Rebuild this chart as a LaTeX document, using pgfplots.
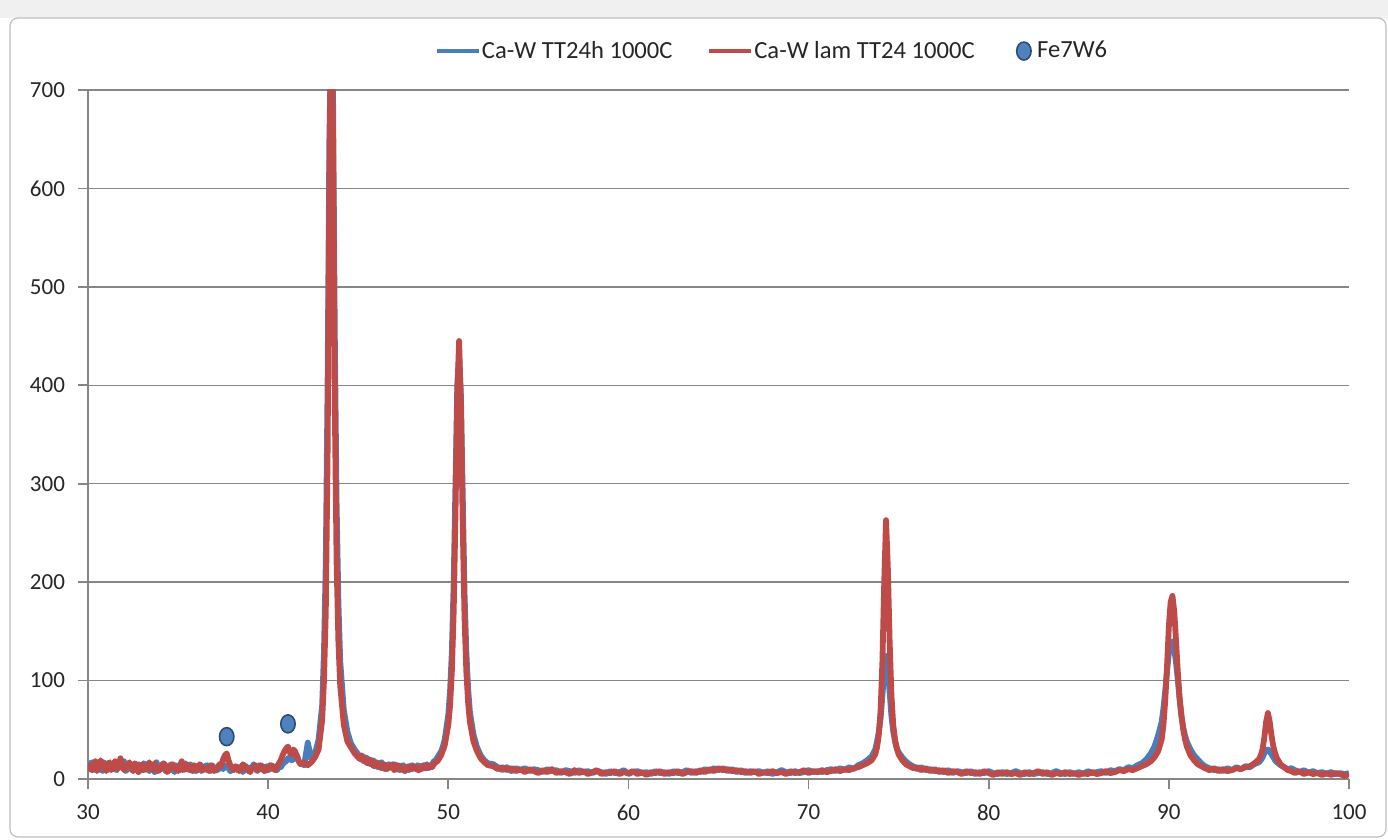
\documentclass[border=0pt]{standalone}
\usepackage{pgfplots}
\usepackage{pgfplotstable}
\pgfplotsset{compat=1.18}
\usepackage{fontspec}
\setmainfont{Carlito}
\definecolor{xblue}{HTML}{4A7EBB}
\definecolor{xred}{HTML}{BE4B48}
\definecolor{xgrid}{HTML}{868686}
\definecolor{mkfill}{HTML}{4F81BD}
\definecolor{mkdraw}{HTML}{2C4D75}

\pgfplotstableread{
x b r
30.0 12 16
30.1 15 11
30.2 17 9
30.3 9 14
30.4 10 18
30.5 16 8
30.6 15 11
30.7 11 19
30.8 8 15
30.9 17 12
31.0 14 8
31.1 9 15
31.2 11 17
31.3 14 9
31.4 16 12
31.5 10 18
31.6 9 10
31.7 16 13
31.8 13 21
31.9 11 15
32.0 18 9
32.1 8 12
32.2 10 14
32.3 15 17
32.4 13 11
32.5 11 8
32.6 9 16
32.7 13 14
32.8 15 7
32.9 8 12
33.0 11 15
33.1 16 9
33.2 14 10
33.3 10 13
33.4 8 17
33.5 13 11
33.6 12 9
33.7 7 16
33.8 17 13
33.9 12 8
34.0 9 10
34.1 15 12
34.2 13 16
34.3 8 14
34.4 10 7
34.5 12 9
34.6 15 13
34.7 10 15
34.8 7 11
34.9 14 10
35.0 12 8
35.1 9 13
35.2 10 18
35.3 13 9
35.4 16 10
35.5 11 15
35.6 9 13
35.7 15 10
35.8 12 8
35.9 9 14
36.0 8 12
36.1 12 9
36.2 13 15
36.3 8 13
36.4 10 9
36.5 13 10
36.6 14 11
36.7 10 8
36.8 8 14
36.9 14 12
37.0 11 8
37.1 9 10
37.2 9 12
37.3 12 15
37.4 12 13
37.5 10 20
37.6 14 24
37.7 13 26
37.8 11 19
37.9 8 14
38.0 9 11
38.1 12 9
38.2 12 13
38.3 9 12
38.4 10 8
38.5 13 10
38.6 7 15
38.7 10 13
38.8 13 10
38.9 8 9
39.0 10 7
39.1 12 11
39.2 15 12
39.3 10 14
39.4 8 9
39.5 14 10
39.6 12 14
39.7 9 12
39.8 11 8
39.9 13 9
40.0 9 11
40.1 10 14
40.2 14 13
40.3 12 10
40.4 11 9
40.5 9 13
40.6 13 16
40.7 12 19
40.8 15 24
40.9 17 28
41.0 18 31
41.1 21 33
41.2 22 27
41.3 19 25
41.4 20 30
41.5 23 28
41.6 24 22
41.7 18 18
41.8 16 15
41.9 15 16
42.0 14 17
42.2 37 14
42.4 20 17
42.6 26 22
42.8 40 30
43.0 75 60
43.1 130 100
43.2 220 170
43.3 400 330
43.4 650 600
43.5 760 800
43.6 700 650
43.7 450 380
43.8 280 220
43.9 180 140
44.0 120 95
44.2 70 55
44.4 48 38
44.6 36 32
44.8 30 26
45.0 25 22
45.1 23 20
45.2 20 24
45.3 18 21
45.4 22 18
45.5 21 16
45.6 16 20
45.7 15 19
45.8 19 14
45.9 18 13
46.0 13 17
46.1 12 16
46.2 16 12
46.3 17 11
46.4 11 15
46.5 10 14
46.6 14 10
46.7 15 12
46.8 12 13
46.9 11 15
47.0 15 9
47.1 14 10
47.2 10 14
47.3 9 13
47.4 13 11
47.5 14 9
47.6 11 8
47.7 10 12
47.8 9 13
47.9 13 10
48.0 14 10
48.1 11 13
48.2 10 12
48.3 14 9
48.4 13 9
48.5 10 12
48.6 11 14
48.7 13 11
48.8 15 11
48.9 11 14
49.0 12 13
49.1 15 12
49.2 18 15
49.3 19 17
49.4 22 18
49.5 25 21
49.6 28 24
49.7 33 29
49.8 40 34
50.0 65 55
50.1 90 75
50.2 130 110
50.3 200 170
50.4 300 270
50.5 400 390
50.6 430 445
50.7 390 380
50.8 290 260
50.9 190 165
51.0 130 110
51.1 92 78
51.2 68 58
51.4 45 38
51.6 32 28
51.8 24 21
52.0 19 17
52.2 16 14
52.5 15 13
52.75 12 10
53.0 9 12
53.25 12 9
53.5 8 11
53.75 11 8
54.0 9 10
54.25 11 7
54.5 8 10
54.75 10 8
55.0 9 6
55.25 7 9
55.5 10 7
55.75 8 10
56.0 9 6
56.25 6 8
56.5 9 7
56.75 8 5
57.0 6 9
57.25 9 6
57.5 7 8
57.75 8 5
58.0 6 7
58.25 8 9
58.5 7 5
58.75 5 7
59.0 8 6
59.25 6 8
59.5 7 5
59.75 9 7
60.0 5 6
60.25 7 8
60.5 8 5
60.75 6 7
61.0 7 4
61.25 5 7
61.5 8 6
61.75 6 8
62.0 7 5
62.25 5 7
62.5 8 6
62.75 6 8
63.0 7 5
63.25 9 7
63.5 6 8
63.75 8 6
64.0 7 9
64.25 10 7
64.5 8 10
64.75 11 8
65.0 9 11
65.25 11 9
65.5 8 10
65.75 10 8
66.0 7 9
66.25 9 7
66.5 6 8
66.75 8 6
67.0 7 8
67.25 8 5
67.5 6 7
67.75 8 6
68.0 5 8
68.25 7 6
68.5 9 7
68.75 7 5
69.0 6 8
69.25 8 6
69.5 6 7
69.75 7 9
70.0 9 6
70.25 7 8
70.5 8 7
70.75 7 9
71.0 9 7
71.25 10 8
71.5 8 10
71.75 11 8
72.0 9 10
72.25 12 9
72.5 10 11
72.75 14 12
73.0 16 14
73.25 19 16
73.5 23 19
73.7 30 25
73.8 38 32
73.9 48 45
74.0 62 70
74.1 85 120
74.2 110 200
74.3 125 263
74.4 112 215
74.5 88 140
74.6 64 85
74.7 48 55
74.8 38 40
74.9 31 31
75.0 27 25
75.2 22 19
75.4 18 15
75.6 15 13
75.8 13 11
76.0 10 12
76.25 12 9
76.5 9 11
76.75 10 8
77.0 8 10
77.25 9 7
77.5 7 9
77.75 9 6
78.0 6 8
78.25 8 7
78.5 7 5
78.75 6 8
79.0 8 6
79.25 5 7
79.5 7 5
79.75 6 8
80.0 8 6
80.25 6 4
80.5 5 7
80.75 7 5
81.0 5 7
81.25 6 5
81.5 8 6
81.75 6 4
82.0 5 7
82.25 7 5
82.5 5 6
82.75 6 8
83.0 7 5
83.25 5 7
83.5 6 4
83.75 8 6
84.0 6 5
84.25 5 7
84.5 7 5
84.75 5 6
85.0 7 4
85.25 5 6
85.5 8 5
85.75 6 7
86.0 7 5
86.25 8 6
86.5 6 8
86.75 9 6
87.0 8 7
87.25 10 9
87.5 9 8
87.75 12 10
88.0 11 9
88.25 14 11
88.5 16 13
88.75 20 15
89.0 26 18
89.2 33 22
89.4 44 28
89.6 58 40
89.7 72 55
89.8 90 80
89.9 110 115
90.0 128 155
90.1 138 180
90.2 140 186
90.3 132 170
90.4 118 140
90.5 100 108
90.6 80 82
90.7 64 64
90.8 52 50
90.9 44 40
91.0 38 33
91.2 30 24
91.4 24 19
91.6 20 15
91.8 16 13
92.0 13 11
92.25 11 9
92.5 9 11
92.75 10 8
93.0 8 10
93.25 11 8
93.5 9 9
93.75 12 11
94.0 10 10
94.25 13 12
94.5 12 13
94.75 15 16
95.0 17 20
95.1 19 24
95.2 22 30
95.3 26 42
95.4 29 58
95.5 30 67
95.6 28 58
95.7 25 44
95.8 22 33
95.9 19 26
96.0 17 21
96.2 14 15
96.4 12 12
96.6 10 9
96.8 11 8
97.0 9 6
97.25 7 8
97.5 9 5
97.75 6 7
98.0 8 5
98.25 6 6
98.5 7 4
98.75 5 6
99.0 7 4
99.25 5 6
99.5 6 5
99.75 5 3
100.0 6 5
}\xrd

\pgfplotstableread{
x y
37.7 43
41.1 56
}\fesev

\begin{document}
\begin{tikzpicture}
\path[use as bounding box] (0,0) rectangle (694pt,420pt);
\fill[black!6] (0,411pt) rectangle (694pt,420pt);
\draw[black!25,line width=0.6pt,rounded corners=4pt] (5pt,1.5pt) rectangle (693pt,411pt);
\begin{axis}[
  at={(44pt,30.5pt)}, anchor=south west,
  scale only axis, width=630.5pt, height=344.5pt,
  xmin=30, xmax=100, ymin=0, ymax=700,
  xtick={30,40,...,100}, ytick={0,100,...,700},
  axis lines*=left,
  axis line style={xgrid, line width=0.8pt},
  tick style={xgrid, line width=0.8pt},
  tick align=outside, major tick length=5pt,
  ymajorgrids, grid style={xgrid, line width=0.7pt},
  tick label style={font=\fontsize{11.5}{13}\selectfont, text=black!85},
  /pgf/number format/assume math mode=true,
  xticklabel style={yshift=-4.5pt},
  yticklabel style={xshift=-3pt},
  legend columns=3,
  legend style={at={(0.275,1.0565)}, anchor=west, draw=none, fill=none,
    font=\fontsize{12.3}{14}\selectfont, inner sep=0pt, text=black!85,
    /tikz/column 1/.style={column sep=-1.5pt},
    /tikz/column 2/.style={column sep=15.5pt},
    /tikz/column 3/.style={column sep=-1.5pt},
    /tikz/column 4/.style={column sep=19pt},
    /tikz/column 5/.style={column sep=1pt}},
  legend cell align=left,
]
\addplot[xblue, line width=2.9pt, line join=round, no markers,
  legend image code/.code={\draw[xblue,line width=1.9pt] (0pt,0pt) -- (21pt,0pt);}]
  table[x=x,y=b] {\xrd};
\addlegendentry{Ca-W TT24h 1000C}
\addplot[xred, line width=2.9pt, line join=round, no markers,
  legend image code/.code={\draw[xred,line width=1.9pt] (0pt,0pt) -- (21pt,0pt);}]
  table[x=x,y=r] {\xrd};
\addlegendentry{Ca-W lam TT24 1000C}
\addplot[only marks, mark=*, mark size=4.5pt,
  mark options={xscale=0.8, fill=mkfill, draw=mkdraw, line width=0.8pt}]
  table[x=x,y=y] {\fesev};
\addlegendentry{Fe7W6}
\end{axis}
\end{tikzpicture}
\end{document}
